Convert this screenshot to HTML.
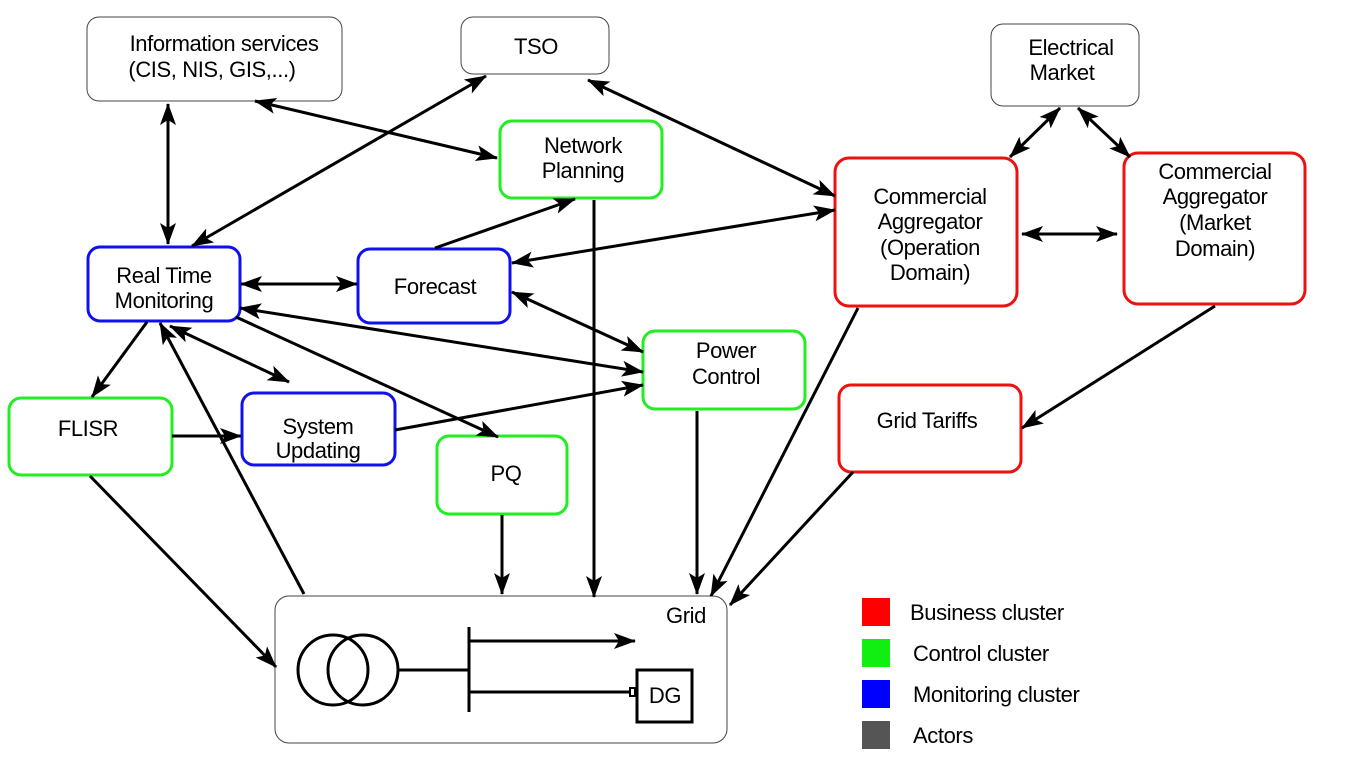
<!DOCTYPE html>
<html><head><meta charset="utf-8"><style>
html,body{margin:0;padding:0;background:#fff;}
svg{display:block;font-family:"Liberation Sans",Arial,sans-serif;}
text{font-size:22px;text-anchor:middle;fill:#000;letter-spacing:-0.4px;}
</style></head><body>
<svg width="1352" height="772" viewBox="0 0 1352 772" xmlns="http://www.w3.org/2000/svg">
<defs>
<marker id="a" markerUnits="userSpaceOnUse" markerWidth="24" markerHeight="18" refX="21" refY="8" orient="auto-start-reverse">
<path d="M0,0 L22,8 L0,16 L5,8 Z" fill="#000"/>
</marker>
</defs>
<g fill="#fff" stroke-width="3">
<rect x="87" y="17" width="255" height="84" rx="12" stroke="#444" stroke-width="1"/>
<rect x="461" y="17" width="148" height="57" rx="12" stroke="#444" stroke-width="1"/>
<rect x="991" y="24" width="148" height="82" rx="12" stroke="#444" stroke-width="1"/>
<rect x="500" y="121" width="162" height="77" rx="12" stroke="#22ee22"/>
<rect x="835" y="158" width="182" height="148" rx="14" stroke="#ee1111"/>
<rect x="1124" y="153" width="181" height="151" rx="14" stroke="#ee1111"/>
<rect x="88" y="247" width="152" height="74" rx="12" stroke="#1111ee"/>
<rect x="358" y="249" width="152" height="74" rx="12" stroke="#1111ee"/>
<rect x="643" y="331" width="162" height="78" rx="12" stroke="#22ee22"/>
<rect x="839" y="385" width="182" height="87" rx="12" stroke="#ee1111"/>
<rect x="9" y="398" width="163" height="77" rx="12" stroke="#22ee22"/>
<rect x="242" y="393" width="153" height="72" rx="12" stroke="#1111ee"/>
<rect x="437" y="436" width="130" height="78" rx="12" stroke="#22ee22"/>
<rect x="275" y="596" width="452" height="147" rx="14" stroke="#444" stroke-width="1"/>
</g>
<g stroke="#000" stroke-width="3" fill="none">
<line x1="168" y1="104" x2="168" y2="244" marker-start="url(#a)" marker-end="url(#a)"/>
<line x1="255" y1="101" x2="497" y2="158" marker-start="url(#a)" marker-end="url(#a)"/>
<line x1="486" y1="76" x2="192" y2="246" marker-start="url(#a)" marker-end="url(#a)"/>
<line x1="588" y1="80" x2="835" y2="196" marker-start="url(#a)" marker-end="url(#a)"/>
<line x1="435" y1="248" x2="575" y2="199" marker-end="url(#a)"/>
<line x1="835" y1="210" x2="512" y2="263" marker-start="url(#a)" marker-end="url(#a)"/>
<line x1="241" y1="284" x2="357" y2="284" marker-start="url(#a)" marker-end="url(#a)"/>
<line x1="1060" y1="108" x2="1010" y2="157" marker-start="url(#a)" marker-end="url(#a)"/>
<line x1="1078" y1="108" x2="1130" y2="157" marker-start="url(#a)" marker-end="url(#a)"/>
<line x1="1022" y1="234" x2="1117" y2="234" marker-start="url(#a)" marker-end="url(#a)"/>
<line x1="512" y1="292" x2="643" y2="352" marker-start="url(#a)" marker-end="url(#a)"/>
<line x1="240" y1="308" x2="643" y2="372" marker-start="url(#a)" marker-end="url(#a)"/>
<line x1="236" y1="317" x2="498" y2="437" marker-end="url(#a)"/>
<line x1="147" y1="322" x2="92" y2="397" marker-end="url(#a)"/>
<line x1="170" y1="326" x2="289" y2="382" marker-start="url(#a)" marker-end="url(#a)"/>
<line x1="304" y1="594" x2="160" y2="323" marker-end="url(#a)"/>
<line x1="172" y1="436" x2="241" y2="436" marker-end="url(#a)"/>
<line x1="395" y1="430" x2="643" y2="385" marker-end="url(#a)"/>
<line x1="90" y1="476" x2="276" y2="667" marker-end="url(#a)"/>
<line x1="502" y1="515" x2="502" y2="594" marker-end="url(#a)"/>
<line x1="594" y1="200" x2="594" y2="597" marker-end="url(#a)"/>
<line x1="697" y1="411" x2="697" y2="594" marker-end="url(#a)"/>
<line x1="858" y1="308" x2="711" y2="596" marker-end="url(#a)"/>
<line x1="853" y1="472" x2="730" y2="605" marker-end="url(#a)"/>
<line x1="1215" y1="306" x2="1022" y2="428" marker-end="url(#a)"/>
<circle cx="333" cy="670" r="35"/>
<circle cx="363" cy="670" r="35"/>
<line x1="398" y1="670" x2="469" y2="670"/>
<line x1="469" y1="627" x2="469" y2="712"/>
<line x1="469" y1="641" x2="635" y2="641" marker-end="url(#a)"/>
<line x1="469" y1="692" x2="630" y2="692"/>
<rect x="630" y="688" width="5" height="8" stroke-width="2"/>
<rect x="637" y="670" width="55" height="52"/>
</g>
<text x="224" y="51">Information services</text>
<text x="212" y="77">(CIS, NIS, GIS,...)</text>
<text x="536" y="54">TSO</text>
<text x="1071" y="55">Electrical</text>
<text x="1062" y="80">Market</text>
<text x="583" y="153">Network</text>
<text x="583" y="178">Planning</text>
<text x="930" y="204">Commercial</text>
<text x="930" y="229">Aggregator</text>
<text x="930" y="255">(Operation</text>
<text x="930" y="280">Domain)</text>
<text x="1215" y="179">Commercial</text>
<text x="1215" y="204">Aggregator</text>
<text x="1215" y="230">(Market</text>
<text x="1215" y="256">Domain)</text>
<text x="164" y="283">Real Time</text>
<text x="164" y="308">Monitoring</text>
<text x="435" y="294">Forecast</text>
<text x="726" y="358">Power</text>
<text x="726" y="384">Control</text>
<text x="927" y="428">Grid Tariffs</text>
<text x="88" y="436">FLISR</text>
<text x="318" y="434">System</text>
<text x="318" y="458">Updating</text>
<text x="506" y="481">PQ</text>
<text x="686" y="623">Grid</text>
<text x="665" y="703">DG</text>
<rect x="862" y="598" width="28" height="28" fill="#ff0000"/>
<rect x="862" y="639" width="28" height="28" fill="#11ee11"/>
<rect x="862" y="680" width="28" height="28" fill="#0000ff"/>
<rect x="862" y="721" width="28" height="28" fill="#555"/>
<text x="910" y="620" style="text-anchor:start">Business cluster</text>
<text x="913" y="661" style="text-anchor:start">Control cluster</text>
<text x="913" y="702" style="text-anchor:start">Monitoring cluster</text>
<text x="913" y="743" style="text-anchor:start">Actors</text>
</svg>
</body></html>
